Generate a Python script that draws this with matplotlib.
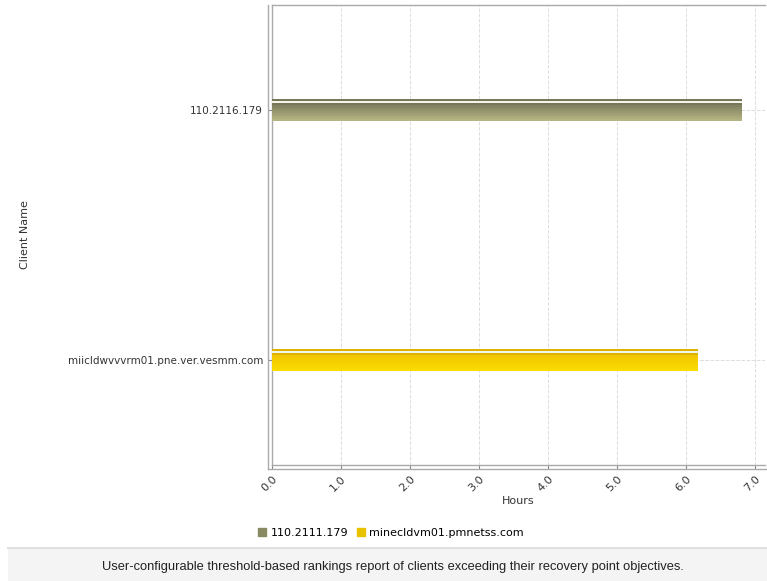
import matplotlib.pyplot as plt
import matplotlib
import numpy as np
from matplotlib.lines import Line2D
from matplotlib.patches import Rectangle
from matplotlib.colors import to_rgb

matplotlib.rcParams['font.family'] = ['DejaVu Sans']

# ---------------- data
clients = ['miicldwvvvrm01.pne.ver.vesmm.com', '110.2116.179']
hours = [6.18, 6.82]
legend_labels = ['110.2111.179', 'minecldvm01.pmnetss.com']
dark_colors = ['#dcb400', '#77775a']
light_colors = ['#f8dc00', '#b4b482']
xticks = [0.0, 1.0, 2.0, 3.0, 4.0, 5.0, 6.0, 7.0]

# ---------------- figure
fig = plt.figure(figsize=(7.67, 5.81), dpi=100)
ax = fig.add_axes([0.3546, 0.1997, 0.643, 0.7917])

pos = np.arange(len(clients))
bar_h = 0.09
ax.barh(pos, hours, height=bar_h, color=dark_colors, zorder=3)

# simple vertical gradient: narrower bars anchored at the bottom, getting lighter
steps = 8
for i in range(steps):
    frac = i / (steps - 1)
    h = bar_h * (0.72 - 0.6 * frac)
    cols = [tuple((1 - frac) * np.array(to_rgb(d)) * 1.1 + frac * np.array(to_rgb(l)))
            for d, l in zip(dark_colors, light_colors)]
    cols = [tuple(min(1, c) for c in col) for col in cols]
    ax.barh(pos - bar_h / 2 + h / 2, hours, height=h, color=cols, zorder=4 + i)
ax.barh(pos + 0.032, hours, height=0.007, color='#f4f4e8', zorder=20)

ax.set_xlim(0, 7.15)
ax.set_ylim(-0.42, 1.42)
ax.set_yticks(pos)
ax.set_yticklabels(clients, fontsize=7.5, color='#333333')
ax.set_xticks(xticks)
ax.set_xticklabels(['%.1f' % t for t in xticks], rotation=45, ha='right',
                   rotation_mode='anchor', fontsize=8, color='#333333')
ax.tick_params(axis='both', length=3, color='#888888')
ax.grid(True, color='#dddddd', linestyle='--', linewidth=0.7, zorder=0)

for s in ax.spines.values():
    s.set_color('#aaaaaa')
    s.set_linewidth(1)
ax.spines['right'].set_visible(False)

ax.set_xlabel('Hours', fontsize=8, color='#333333', labelpad=2)
ax.set_ylabel('Client Name', fontsize=8, color='#333333')
ax.yaxis.set_label_coords(-0.49, 0.5)

# outer frame lines
fig.add_artist(Line2D([268 / 767, 268 / 767], [1 - 5 / 581, 1 - 469 / 581],
                      color='#aaaaaa', linewidth=1))
fig.add_artist(Line2D([268 / 767, 1.0], [1 - 469 / 581, 1 - 469 / 581],
                      color='#aaaaaa', linewidth=1))

# legend
handles = [Rectangle((0, 0), 1, 1, color=c) for c in ['#8a8a62', '#e8c200']]
fig.legend(handles, legend_labels, loc='center', bbox_to_anchor=(0.51, 1 - 533 / 581),
           ncol=2, frameon=False, fontsize=8, handlelength=0.7, handleheight=0.7,
           handletextpad=0.4, columnspacing=0.8)

# footer
fig.add_artist(Rectangle((0.01, 0), 0.99, 33 / 581, transform=fig.transFigure,
                         facecolor='#f4f4f4', edgecolor='none'))
fig.add_artist(Line2D([0.01, 1.0], [33 / 581, 33 / 581], color='#e0e0e0', linewidth=1.5))
fig.text(0.512, 14 / 581,
         'User-configurable threshold-based rankings report of clients exceeding their recovery point objectives.',
         ha='center', va='center', fontsize=9.3, family=['Liberation Sans'], color='#222222')

plt.savefig('out.png', dpi=100)
